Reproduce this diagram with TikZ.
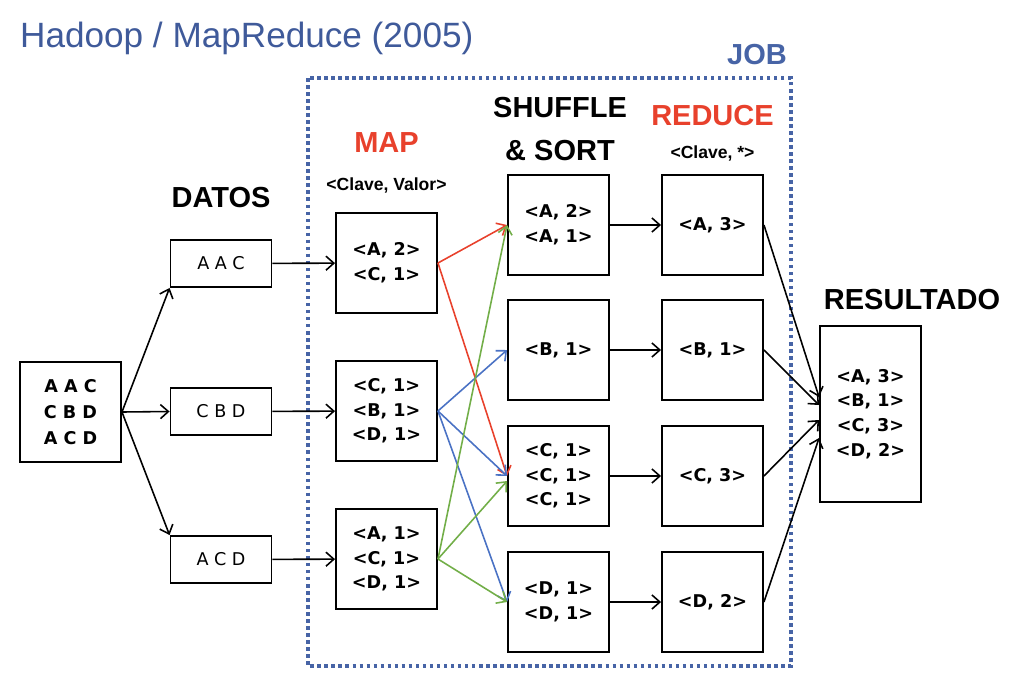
\documentclass[tikz,border=0pt]{standalone}
\usepackage{fontspec}
\usetikzlibrary{arrows.meta}
\setmainfont{Liberation Sans}
\newfontfamily\boxfont{DejaVu Sans}
\definecolor{titleblue}{HTML}{3F5A9A}
\definecolor{jobblue}{HTML}{4764A6}
\definecolor{mapred}{HTML}{E8412C}
\definecolor{lineblue}{HTML}{4A72C4}
\definecolor{linegreen}{HTML}{72AE48}
\begin{document}
\begin{tikzpicture}[
        x=0.02cm, y=-0.02cm,
        >={Straight Barb[length=4.5pt, width=8pt]},
        box/.style={rectangle, draw, line width=1.1pt, minimum width=2.02cm, minimum height=2cm, align=center, inner sep=0pt, font=\boxfont\bfseries\fontsize{10}{14}\selectfont},
        datobox/.style={box, minimum height=0.94cm, font=\boxfont\fontsize{10}{14}\selectfont},
        header/.style={font=\bfseries\fontsize{16.5}{24}\selectfont, align=center},
        subheader/.style={font=\bfseries\fontsize{10}{12}\selectfont},
        flecha/.style={->, line width=0.9pt},
        mapflecha/.style={->, line width=0.9pt}
    ]
    \useasboundingbox (0,0) rectangle (1024,683);

        % Titulo y job
        \node[anchor=west, text=titleblue, font=\fontsize{20}{24}\selectfont] (titulo) at (14,38) {Hadoop / MapReduce (2005)};
        \draw[jobblue, line width=1.8pt, dash pattern=on 2pt off 2pt] (308,78) rectangle (791,666);
        \node[header, text=jobblue] (job) at (757,55) {JOB};

        % Entrada
        \node[box, minimum height=2cm, font=\boxfont\bfseries\fontsize{10}{14.7}\selectfont] (entrada) at (70.5,412) {A A C\\C B D\\A C D};

        % Datos
        \node[header] (datos) at (221,198) {DATOS};
        \node[datobox] (d1) at (221,263.5) {A A C};
        \node[datobox] (d2) at (221,411.5) {C B D};
        \node[datobox] (d3) at (221,559.5) {A C D};

        % Map
        \node[header, text=mapred] (map) at (386.5,143) {MAP};
        \node[subheader] (mapkv) at (386.5,185) {<Clave, Valor>};
        \node[box] (m1) at (386.5,263) {<A, 2>\\<C, 1>};
        \node[box] (m2) at (386.5,411) {<C, 1>\\<B, 1>\\<D, 1>};
        \node[box] (m3) at (386.5,559) {<A, 1>\\<C, 1>\\<D, 1>};

        % Shuffle & sort
        \node[header] (shuffle) at (560,129) {SHUFFLE\\\& SORT};
        \node[box] (s1) at (558.5,225) {<A, 2>\\<A, 1>};
        \node[box] (s2) at (558.5,350) {<B, 1>};
        \node[box] (s3) at (558.5,476) {<C, 1>\\<C, 1>\\<C, 1>};
        \node[box] (s4) at (558.5,602) {<D, 1>\\<D, 1>};

        % Reduce
        \node[header, text=mapred] (reduce) at (712.5,116) {REDUCE};
        \node[subheader] (redkv) at (712.5,153) {<Clave, *>};
        \node[box] (r1) at (712.5,225) {<A, 3>};
        \node[box] (r2) at (712.5,350) {<B, 1>};
        \node[box] (r3) at (712.5,476) {<C, 3>};
        \node[box] (r4) at (712.5,602) {<D, 2>};

        % Resultado
        \node[header] (resultado) at (912,300) {RESULTADO};
        \node[box, minimum height=3.52cm] (res) at (870.5,414) {<A, 3>\\<B, 1>\\<C, 3>\\<D, 2>};

        % Flechas
        \draw[flecha] (entrada.east) -- (d1.south west);
        \draw[flecha] (entrada.east) -- (d2.west);
        \draw[flecha] (entrada.east) -- (d3.north west);

        \draw[flecha] (d1) -- (m1);
        \draw[flecha] (d2) -- (m2);
        \draw[flecha] (d3) -- (m3);

        \draw[mapflecha, mapred] (m1.east) -- (s1.west);
        \draw[mapflecha, mapred] (m1.east) -- (s3.west);
        \draw[mapflecha, lineblue] (m2.east) -- (s2.west);
        \draw[mapflecha, lineblue] (m2.east) -- (s3.west);
        \draw[mapflecha, lineblue] (m2.east) -- (s4.west);
        \draw[mapflecha, linegreen] (m3.east) -- (s1.west);
        \draw[mapflecha, linegreen] (m3.east) -- ([yshift=-0.1cm]s3.west);
        \draw[mapflecha, linegreen] (m3.east) -- (s4.west);

        \draw[flecha] (s1) -- (r1);
        \draw[flecha] (s2) -- (r2);
        \draw[flecha] (s3) -- (r3);
        \draw[flecha] (s4) -- (r4);

        \draw[flecha] (r1.east) -- ([yshift=0.34cm]res.west);
        \draw[flecha] (r2.east) -- ([yshift=0.18cm]res.west);
        \draw[flecha] (r3.east) -- ([yshift=-0.12cm]res.west);
        \draw[flecha] (r4.east) -- ([yshift=-0.48cm]res.west);

    \end{tikzpicture}
\end{document}
